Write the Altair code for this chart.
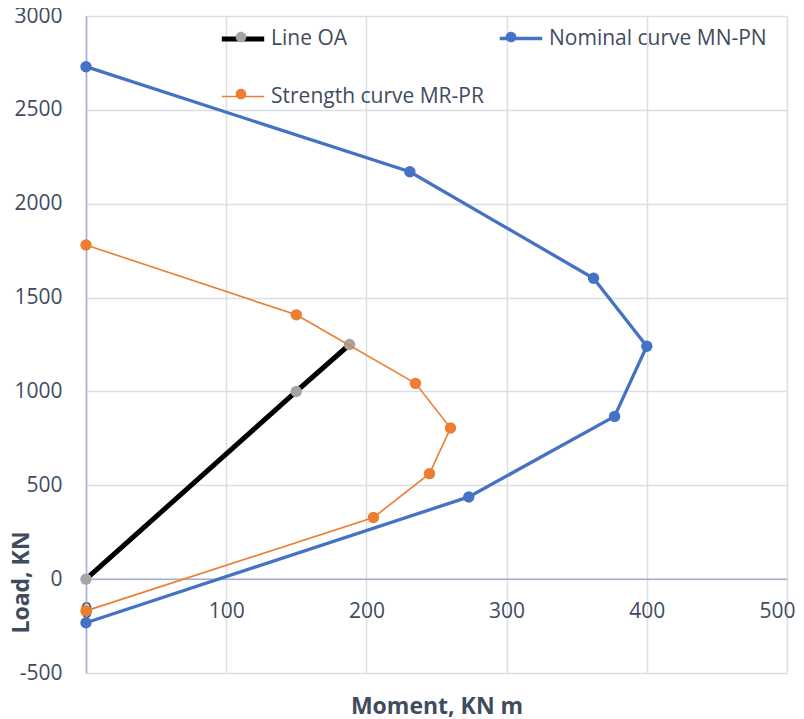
import altair as alt
import pandas as pd

# ---- data ----
series_names = ["Line OA", "Nominal curve MN-PN", "Strength curve MR-PR"]
oa_moment = [0, 150, 188]
oa_load = [0, 1000, 1250]
nominal_moment = [0, 231, 362, 400, 377, 273, 0]
nominal_load = [2730, 2170, 1603, 1241, 867, 438, -232]
strength_moment = [0, 150, 235, 260, 245, 205, 0]
strength_load = [1780, 1408, 1043, 805, 562, 328, -169]

x_ticks = [0, 100, 200, 300, 400, 500]
y_ticks = [-500, 0, 500, 1000, 1500, 2000, 2500, 3000]

# ---- styles ----
line_colors = ["#000000", "#4472C4", "#ED7D31"]
marker_colors = ["#A5A5A5", "#4472C4", "#ED7D31"]
line_widths = [5, 1.6, 1.6]
FONT = "Open Sans"
TEXT = "#404c5e"
GRID = "#dcdee3"
AXISLINE = "#a4add3"

rows = []
for name, ms, ls in zip(series_names,
                        [oa_moment, nominal_moment, strength_moment],
                        [oa_load, nominal_load, strength_load]):
    for i, (m, l) in enumerate(zip(ms, ls)):
        rows.append({"series": name, "marker": name, "idx": i, "moment": m, "load": l})
df = pd.DataFrame(rows)

last_x = x_ticks[-1]
x_enc = alt.X(
    "moment:Q",
    scale=alt.Scale(domain=[0, 500], nice=False, zero=False),
    axis=alt.Axis(
        values=x_ticks, title="Moment, KN m", grid=True, gridColor=GRID, gridWidth=1.5,
        domain=False, ticks=False, tickSize=0, labelPadding=-62, labelBaseline="middle",
        labelFlush=False, labelExpr="'' + datum.value", labelFont=FONT, labelFontSize=21,
        labelColor=TEXT,
        labelAlign=alt.ExprRef(f"datum.value == {last_x} ? 'right' : 'center'"),
        labelOffset=alt.ExprRef(f"datum.value == {last_x} ? 8 : 0"),
        titleFont=FONT, titleFontSize=23, titleFontWeight="bold",
        titleColor=TEXT, titleY=40, titleBaseline="alphabetic",
    ),
)
y_enc = alt.Y(
    "load:Q",
    scale=alt.Scale(domain=[-500, 3000], nice=False, zero=False),
    axis=alt.Axis(
        values=y_ticks, title="Load, KN", grid=True, gridColor=GRID, gridWidth=1.5,
        domain=True, domainColor=AXISLINE, domainWidth=1.5, ticks=False, tickSize=0,
        labelPadding=24, labelFlush=False, labelExpr="'' + datum.value", labelFont=FONT,
        labelFontSize=21, labelColor=TEXT, titleFont=FONT, titleFontSize=23,
        titleFontWeight="bold", titleColor=TEXT, titleX=-58, titleY=566, titleAngle=270,
        titleBaseline="alphabetic", titleAlign="center",
    ),
)

legend_common = dict(
    orient="none", legendX=133, legendY=-1, columns=2, direction="horizontal",
    title=None, symbolSize=1800, symbolStrokeWidth=1.5, labelFont=FONT,
    labelFontSize=21, labelColor=TEXT, labelOffset=4, labelLimit=400, rowPadding=25,
    columnPadding=9, padding=0,
)

stroke_enc = alt.Stroke(
    "series:N", scale=alt.Scale(domain=series_names, range=line_colors),
    legend=alt.Legend(symbolType="stroke", **legend_common),
)
width_enc = alt.StrokeWidth(
    "series:N", scale=alt.Scale(domain=series_names, range=line_widths),
    legend=alt.Legend(title=None),
)
circle_path = "M-0.25,0A0.25,0.25 0 1,0 0.25,0A0.25,0.25 0 1,0 -0.25,0Z"
fill_enc = alt.Fill(
    "marker:N", scale=alt.Scale(range=marker_colors),
    legend=alt.Legend(symbolType=circle_path, symbolOpacity=1, labelOpacity=0,
                      symbolStrokeColor="transparent", **legend_common),
)

zero_rule = alt.Chart(pd.DataFrame({"z": [0]})).mark_rule(
    color=AXISLINE, strokeWidth=1.5
).encode(y=alt.datum(0))

layers = [zero_rule]
for name in series_names:
    sub = alt.Chart(df).transform_filter(alt.datum.series == name)
    layers.append(
        sub.mark_line().encode(x=x_enc, y=y_enc, order="idx:Q",
                               stroke=stroke_enc, strokeWidth=width_enc)
    )
    layers.append(
        sub.mark_point(filled=True, size=130, opacity=1, strokeWidth=0).encode(
            x=x_enc, y=y_enc, fill=fill_enc)
    )

chart = alt.layer(*layers).properties(
    width=701, height=657,
    autosize=alt.AutoSizeParams(type="none"),
    padding={"left": 78, "top": 8, "right": 9, "bottom": 45},
    background="white",
).configure_view(stroke=None)

chart.save("out.html", embed_options={"renderer": "svg", "actions": False})
